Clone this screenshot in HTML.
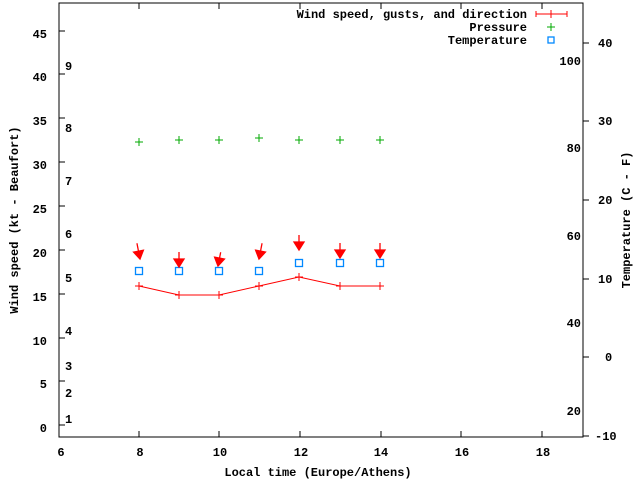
<!DOCTYPE html>
<html><head><meta charset="utf-8"><style>
html,body{margin:0;padding:0;background:#fff}
svg text{font-family:"Liberation Mono",monospace;font-weight:bold;font-size:12px;fill:#000}
</style></head><body>
<svg width="640" height="480" xmlns="http://www.w3.org/2000/svg">
<rect x="59" y="3" width="524" height="434" fill="none" stroke="#000" stroke-width="1"/>
<g stroke="#000" stroke-width="1">
<line x1="59" y1="425" x2="65" y2="425"/><line x1="59" y1="381" x2="65" y2="381"/><line x1="59" y1="338" x2="65" y2="338"/><line x1="59" y1="294" x2="65" y2="294"/><line x1="59" y1="250" x2="65" y2="250"/><line x1="59" y1="206" x2="65" y2="206"/><line x1="59" y1="162" x2="65" y2="162"/><line x1="59" y1="118" x2="65" y2="118"/><line x1="59" y1="74" x2="65" y2="74"/><line x1="59" y1="31" x2="65" y2="31"/>
<line x1="139" y1="437" x2="139" y2="431"/><line x1="219" y1="437" x2="219" y2="431"/><line x1="300" y1="437" x2="300" y2="431"/><line x1="381" y1="437" x2="381" y2="431"/><line x1="461" y1="437" x2="461" y2="431"/><line x1="542" y1="437" x2="542" y2="431"/>
<line x1="139" y1="3" x2="139" y2="9"/><line x1="219" y1="3" x2="219" y2="9"/><line x1="300" y1="3" x2="300" y2="9"/><line x1="381" y1="3" x2="381" y2="9"/><line x1="461" y1="3" x2="461" y2="9"/><line x1="542" y1="3" x2="542" y2="9"/>
<line x1="583" y1="436" x2="589" y2="436"/><line x1="583" y1="357" x2="589" y2="357"/><line x1="583" y1="279" x2="589" y2="279"/><line x1="583" y1="200" x2="589" y2="200"/><line x1="583" y1="121" x2="589" y2="121"/><line x1="583" y1="43" x2="589" y2="43"/>
</g>
<g text-anchor="end">
<text x="47" y="432">0</text><text x="47" y="388">5</text><text x="47" y="345">10</text><text x="47" y="301">15</text><text x="47" y="257">20</text><text x="47" y="213">25</text><text x="47" y="169">30</text><text x="47" y="125">35</text><text x="47" y="81">40</text><text x="47" y="38">45</text>
</g>
<g>
<text x="65" y="423">1</text><text x="65" y="397">2</text><text x="65" y="370">3</text><text x="65" y="335">4</text><text x="65" y="282">5</text><text x="65" y="238">6</text><text x="65" y="185">7</text><text x="65" y="132">8</text><text x="65" y="70">9</text>
</g>
<g text-anchor="middle">
<text x="61" y="456">6</text><text x="140" y="456">8</text><text x="220" y="456">10</text><text x="301" y="456">12</text><text x="381" y="456">14</text><text x="462" y="456">16</text><text x="543" y="456">18</text>
<text x="318" y="476">Local time (Europe/Athens)</text>
</g>
<g text-anchor="start">
<text x="595" y="440">-10</text><text x="605" y="361">0</text><text x="598" y="283">10</text><text x="598" y="204">20</text><text x="598" y="125">30</text><text x="598" y="47">40</text>
</g>
<g text-anchor="end">
<text x="581" y="65">100</text><text x="581" y="152">80</text><text x="581" y="240">60</text><text x="581" y="327">40</text><text x="581" y="415">20</text>
</g>
<text transform="translate(18 220) rotate(-90)" text-anchor="middle">Wind speed (kt - Beaufort)</text>
<text transform="translate(630 220) rotate(-90)" text-anchor="middle">Temperature (C - F)</text>
<g text-anchor="end"><text x="527" y="18">Wind speed, gusts, and direction</text><text x="527" y="31">Pressure</text><text x="527" y="44">Temperature</text></g>
<g stroke="#f00" stroke-width="1"><line x1="536" y1="14" x2="567" y2="14"/><line x1="536" y1="11" x2="536" y2="17"/><line x1="567" y1="11" x2="567" y2="17"/><line x1="551" y1="10" x2="551" y2="18"/></g>
<g stroke="#0a0"><line x1="547" y1="27" x2="555" y2="27"/><line x1="551" y1="23" x2="551" y2="31"/></g>
<rect x="548" y="37" width="6" height="6" fill="none" stroke="#08f" stroke-width="1.3"/>
<polyline points="139,286 179,295 219,295 259,286 299,277 340,286 380,286" fill="none" stroke="#f00" stroke-width="1"/>
<g stroke="#f00"><line x1="139" y1="282" x2="139" y2="290"/><line x1="135" y1="286" x2="143" y2="286"/>
<line x1="179" y1="291" x2="179" y2="299"/><line x1="175" y1="295" x2="183" y2="295"/>
<line x1="219" y1="291" x2="219" y2="299"/><line x1="215" y1="295" x2="223" y2="295"/>
<line x1="259" y1="282" x2="259" y2="290"/><line x1="255" y1="286" x2="263" y2="286"/>
<line x1="299" y1="273" x2="299" y2="281"/><line x1="295" y1="277" x2="303" y2="277"/>
<line x1="340" y1="282" x2="340" y2="290"/><line x1="336" y1="286" x2="344" y2="286"/>
<line x1="380" y1="282" x2="380" y2="290"/><line x1="376" y1="286" x2="384" y2="286"/></g>
<g stroke="#0a0">
<path d="M135,142h8M139,138v8"/><path d="M175,140h8M179,136v8"/><path d="M215,140h8M219,136v8"/><path d="M255,138h8M259,134v8"/><path d="M295,140h8M299,136v8"/><path d="M336,140h8M340,136v8"/><path d="M376,140h8M380,136v8"/>
</g>
<g fill="none" stroke="#08f" stroke-width="1.3">
<rect x="135.5" y="267.5" width="7" height="7"/><rect x="175.5" y="267.5" width="7" height="7"/><rect x="215.5" y="267.5" width="7" height="7"/><rect x="255.5" y="267.5" width="7" height="7"/><rect x="295.5" y="259.5" width="7" height="7"/><rect x="336.5" y="259.5" width="7" height="7"/><rect x="376.5" y="259.5" width="7" height="7"/>
</g>
<g stroke="#f00" stroke-width="1.3" fill="#f00">
<g transform="rotate(-11 140 259)"><line x1="140" y1="243" x2="140" y2="256"/><path d="M135,251 L145,251 L140,259 Z"/></g>
<g><line x1="179" y1="252" x2="179" y2="264"/><path d="M174,259 L184,259 L179,267 Z"/></g>
<g transform="rotate(11 218 266)"><line x1="218" y1="252" x2="218" y2="263"/><path d="M213,258 L223,258 L218,266 Z"/></g>
<g transform="rotate(11 259 259)"><line x1="259" y1="243" x2="259" y2="256"/><path d="M254,251 L264,251 L259,259 Z"/></g>
<g><line x1="299" y1="235" x2="299" y2="247"/><path d="M294,242 L304,242 L299,250 Z"/></g>
<g><line x1="340" y1="243" x2="340" y2="255"/><path d="M335,250 L345,250 L340,258 Z"/></g>
<g><line x1="380" y1="243" x2="380" y2="255"/><path d="M375,250 L385,250 L380,258 Z"/></g>
</g>
</svg>
</body></html>
